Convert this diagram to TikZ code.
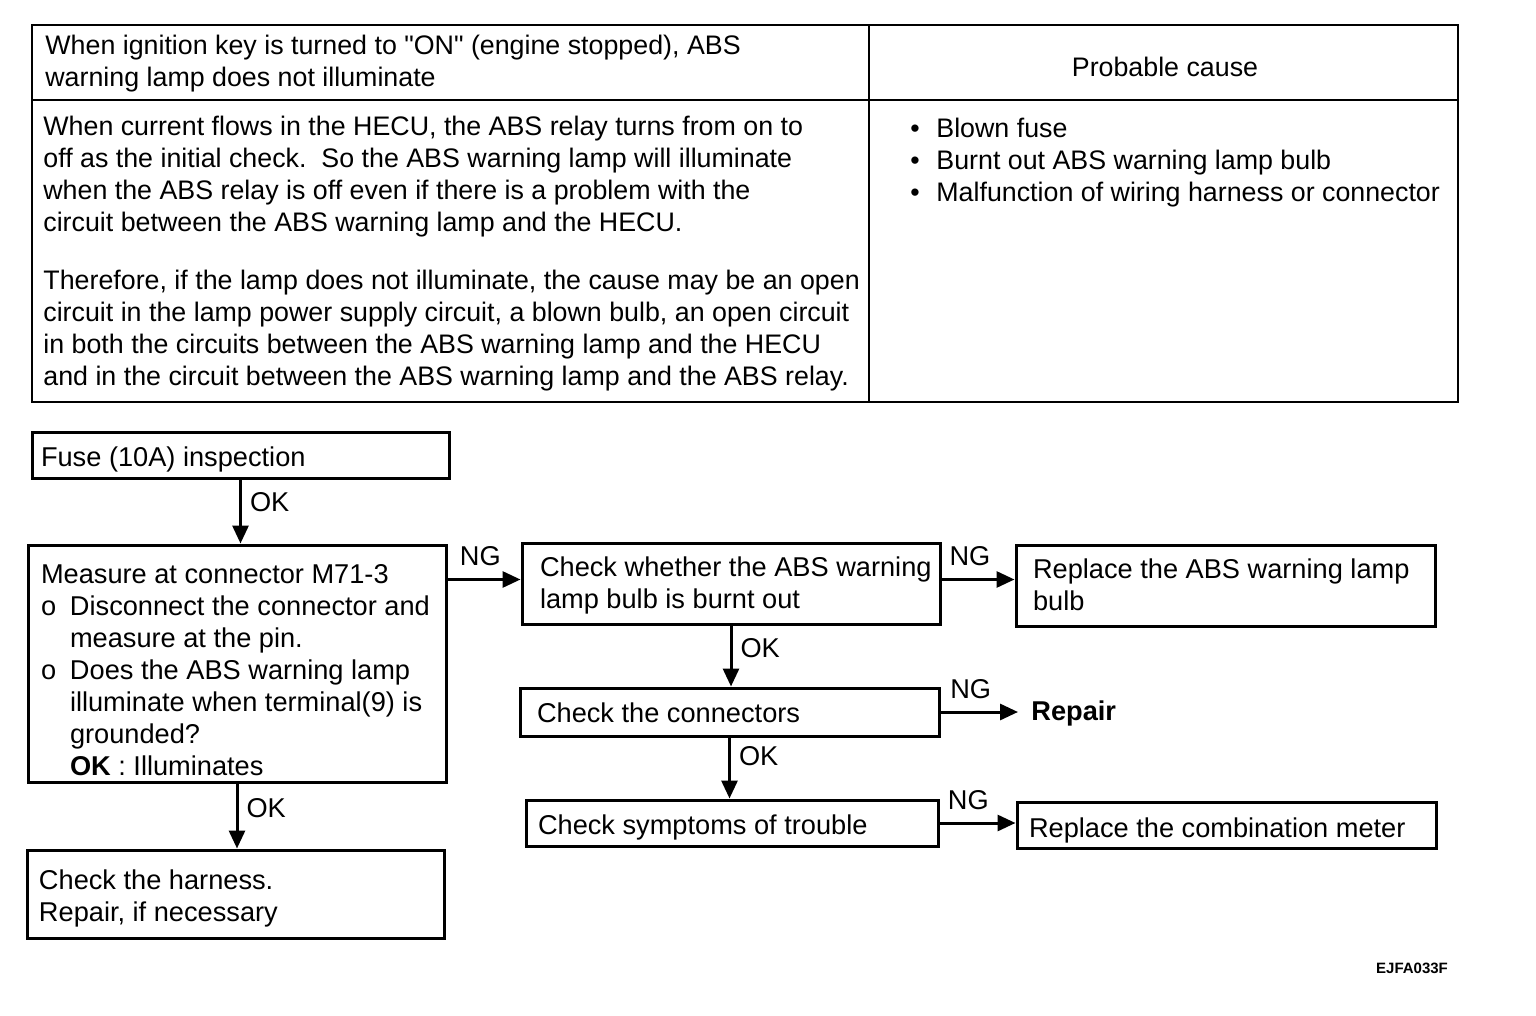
\documentclass[tikz,border=0pt]{standalone}
\usepackage{fontspec}
\setmainfont{Liberation Sans}[Ligatures=TeXOff]
\usetikzlibrary{arrows.meta}
\newcommand\bxt[3][2.5pt]{\makebox[#2][l]{\raisebox{-#1}[\height][\depth]{\begin{tabular}{@{}l@{}}#3\end{tabular}}}}
\newcommand\lns[1]{\begin{tabular}{@{}l@{}}#1\end{tabular}}
\newcommand\hng[1]{\makebox[14.5pt][l]{#1}}
\begin{document}
\begin{tikzpicture}[x=0.5pt,y=-0.5pt,
  every node/.style={font=\fontsize{13.6}{16}\selectfont},
  box/.style={draw, line width=1.5pt, inner ysep=0pt, rectangle},
  flow/.style={line width=1.5pt, -{Triangle[length=9pt,width=8pt]}},
  oklab/.style={anchor=west, inner sep=1pt, xshift=3pt},
  nglab/.style={anchor=base, inner sep=0pt, yshift=7pt},
  tline/.style={line width=1.2pt},
  ttext/.style={inner sep=0pt, font=\fontsize{13.4}{16}\selectfont}]
\fill[white] (0,0) rectangle (1536,1016);
\useasboundingbox (0,0) rectangle (1536,1016);
% table
\draw[tline] (32,25) rectangle (1458,402);
\draw[tline] (32,100) -- (1458,100);
\draw[tline] (869,25) -- (869,402);
\node[ttext, anchor=west] (hl) at (45,64) {\lns{When ignition key is turned to "ON" (engine stopped), ABS\\warning lamp does not illuminate}};
\node[ttext] (hr) at (1165,67) {Probable cause};
\node[ttext, anchor=west] (bl) at (43,254) {\lns{When current flows in the HECU, the ABS relay turns from on to\\off as the initial check.\ \ So the ABS warning lamp will illuminate\\when the ABS relay is off even if there is a problem with the\\circuit between the ABS warning lamp and the HECU.\\[13pt]Therefore, if the lamp does not illuminate, the cause may be an open\\circuit in the lamp power supply circuit, a blown bulb, an open circuit\\in both the circuits between the ABS warning lamp and the HECU\\and in the circuit between the ABS warning lamp and the ABS relay.}};
\node[ttext, anchor=west] (br) at (910,163) {\lns{\makebox[13pt][l]{•}Blown fuse\\\makebox[13pt][l]{•}Burnt out ABS warning lamp bulb\\\makebox[13pt][l]{•}Malfunction of wiring harness or connector}};
% flowchart boxes
\node[box, inner xsep=4.5pt, minimum width=208.5pt, minimum height=23pt] (b1) at (240.5,455) {\bxt{199.5pt}{Fuse (10A) inspection}};
\node[box, inner xsep=6.5pt, minimum width=209pt, minimum height=118.5pt] (b2) at (237,663.5) {\bxt[5pt]{196pt}{Measure at connector M71-3\\\hng{o}Disconnect the connector and\\\hng{}measure at the pin.\\\hng{o}Does the ABS warning lamp\\\hng{}illuminate when terminal(9) is\\\hng{}grounded?\\\hng{}\textbf{OK} : Illuminates}};
\node[box, inner xsep=6pt, minimum width=208.5pt, minimum height=44pt] (b3) at (235.5,894) {\bxt{196.5pt}{Check the harness.\\Repair, if necessary}};
\node[box, inner xsep=9pt, minimum width=209pt, minimum height=40.5pt] (b4) at (731,583.5) {\bxt[1.5pt]{191pt}{Check whether the ABS warning\\lamp bulb is burnt out}};
\node[box, inner xsep=8.5pt, minimum width=209.5pt, minimum height=40.5pt] (b5) at (1225.5,585.5) {\bxt[1.5pt]{192.5pt}{Replace the ABS warning lamp\\bulb}};
\node[box, inner xsep=8.5pt, minimum width=209.5pt, minimum height=24pt] (b6) at (729.5,712) {\bxt[2pt]{192.5pt}{Check the connectors}};
\node[box, inner xsep=6pt, minimum width=206pt, minimum height=23pt] (b7) at (732,823) {\bxt{194pt}{Check symptoms of trouble}};
\node[box, inner xsep=6pt, minimum width=209.5pt, minimum height=23pt] (b8) at (1226.5,825) {\bxt[3pt]{197.5pt}{Replace the combination meter}};
\node[anchor=west, inner xsep=6.5pt, inner ysep=0pt] (rep) at (1018,713) {\bfseries Repair};
\coordinate (p4) at ([yshift=2pt]b4.west);
\coordinate (p5) at ([yshift=2pt]b4.east);
% connectors
\draw[flow] (b1.south) -- (b1.south |- b2.north) node[oklab, pos=0.36] {OK};
\draw[flow] (b2.south) -- (b2.south |- b3.north) node[oklab, pos=0.38] {OK};
\draw[flow] (b4.south) -- (b4.south |- b6.north) node[oklab, pos=0.375] {OK};
\draw[flow] (b6.south) -- (b6.south |- b7.north) node[oklab, pos=0.31] {OK};
\draw[flow] (b2.east |- p4) -- (p4) node[nglab, pos=0.45] {NG};
\draw[flow] (p5) -- (p5 -| b5.west) node[nglab, pos=0.39] {NG};
\draw[flow] (b6.east) -- (b6.east -| rep.west) node[nglab, pos=0.39] {NG};
\draw[flow] (b7.east) -- (b7.east -| b8.west) node[nglab, pos=0.38] {NG};
\node[font=\fontsize{7.5}{9}\selectfont\bfseries, inner sep=0pt] (code) at (1412,968) {EJFA033F};
\end{tikzpicture}
\end{document}
